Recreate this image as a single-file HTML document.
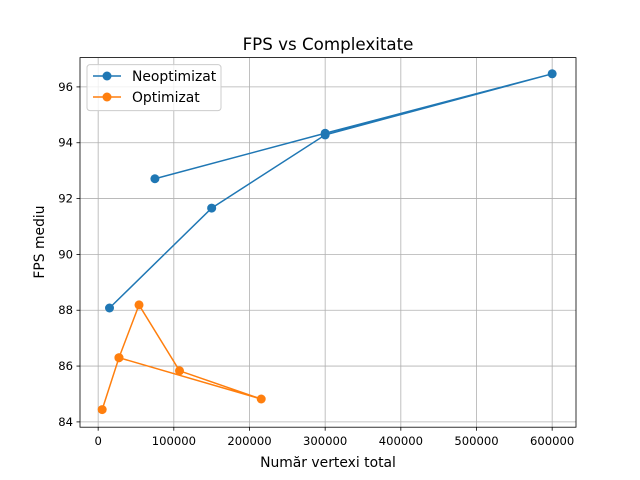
<!DOCTYPE html>
<html><head><meta charset="utf-8"><style>
body{margin:0;background:#fff;}
svg{display:block;font-family:"DejaVu Sans","Liberation Sans",sans-serif;}
</style></head><body>
<svg id="chart" width="640" height="480">
<rect width="640" height="480" fill="#fff"/>
<g id="grid"></g>
<g id="ticks"></g>
<g id="series"></g>
<rect x="80" y="57.6" width="496" height="369.6" fill="none" stroke="#000" stroke-width="0.8"/>
<text x="328" y="50" text-anchor="middle" font-size="16.7">FPS vs Complexitate</text>
<text x="328" y="467" text-anchor="middle" font-size="13.9">Număr vertexi total</text>
<text transform="translate(44,242) rotate(-90)" text-anchor="middle" font-size="13.9">FPS mediu</text>
<g>
<rect x="87" y="64.6" width="134" height="46" rx="3" fill="#fff" fill-opacity="0.8" stroke="#ccc"/>
<g>
<line x1="93" y1="76" x2="121" y2="76" stroke="#1f77b4" stroke-width="1.5"/><circle cx="107" cy="76" r="4.5" fill="#1f77b4"/>
<text x="132" y="81" font-size="13.9">Neoptimizat</text></g>
<g>
<line x1="93" y1="97" x2="121" y2="97" stroke="#ff7f0e" stroke-width="1.5"/><circle cx="107" cy="97" r="4.5" fill="#ff7f0e"/>
<text x="132" y="102" font-size="13.9">Optimizat</text></g>
</g>
</svg>
<script>
const xTicks=[0,100000,200000,300000,400000,500000,600000];
const yTicks=[84,86,88,90,92,94,96];
const neoX=[15000,150000,300000,600000,300000,75000];
const neoY=[88.08,91.66,94.28,96.47,94.34,92.71];
const optX=[5300,27500,54000,107500,215500,27500];
const optY=[84.44,86.30,88.19,85.83,84.82,86.30];
const X0=80,X1=576,Y0=427.2,Y1=57.6,xmin=-24000,xmax=631500,ymin=83.81,ymax=97.05;
const sx=v=>X0+(v-xmin)/(xmax-xmin)*(X1-X0);
const sy=v=>Y0-(v-ymin)/(ymax-ymin)*(Y0-Y1);
const NS="http://www.w3.org/2000/svg";
function mk(t,a,p){const e=document.createElementNS(NS,t);for(const k in a)e.setAttribute(k,a[k]);p.appendChild(e);return e;}
const grid=document.getElementById('grid'),ticks=document.getElementById('ticks'),ser=document.getElementById('series');
xTicks.forEach(v=>{const x=sx(v);
 const g=mk('line',{x1:x,x2:x,y1:Y0,y2:Y1,stroke:'#b0b0b0','stroke-width':0.8},grid);
 
 
 mk('line',{x1:x,x2:x,y1:Y0,y2:Y0+3.5,stroke:'#000','stroke-width':0.8},ticks);
 const t=mk('text',{x:x,y:Y0+18,'text-anchor':'middle','font-size':11.6},ticks);t.textContent=v;
 
 });
yTicks.forEach(v=>{const y=sy(v);
 const g=mk('line',{x1:X0,x2:X1,y1:y,y2:y,stroke:'#b0b0b0','stroke-width':0.8},grid);
 
 
 mk('line',{x1:X0-3.5,x2:X0,y1:y,y2:y,stroke:'#000','stroke-width':0.8},ticks);
 const t=mk('text',{x:X0-7,y:y+4,'text-anchor':'end','font-size':11.6},ticks);t.textContent=v;
 
 });
function series(xs,ys,c,name){
 const pl=mk('polyline',{points:xs.map((v,i)=>sx(v)+','+sy(ys[i])).join(' '),fill:'none',stroke:c,'stroke-width':1.5},ser);
 
 
 xs.forEach((v,i)=>{const p=mk('circle',{cx:sx(v),cy:sy(ys[i]),r:4.5,fill:c},ser);
 
 });
}
series(neoX,neoY,'#1f77b4','neoptimizat');
series(optX,optY,'#ff7f0e','optimizat');
</script>
</body></html>
